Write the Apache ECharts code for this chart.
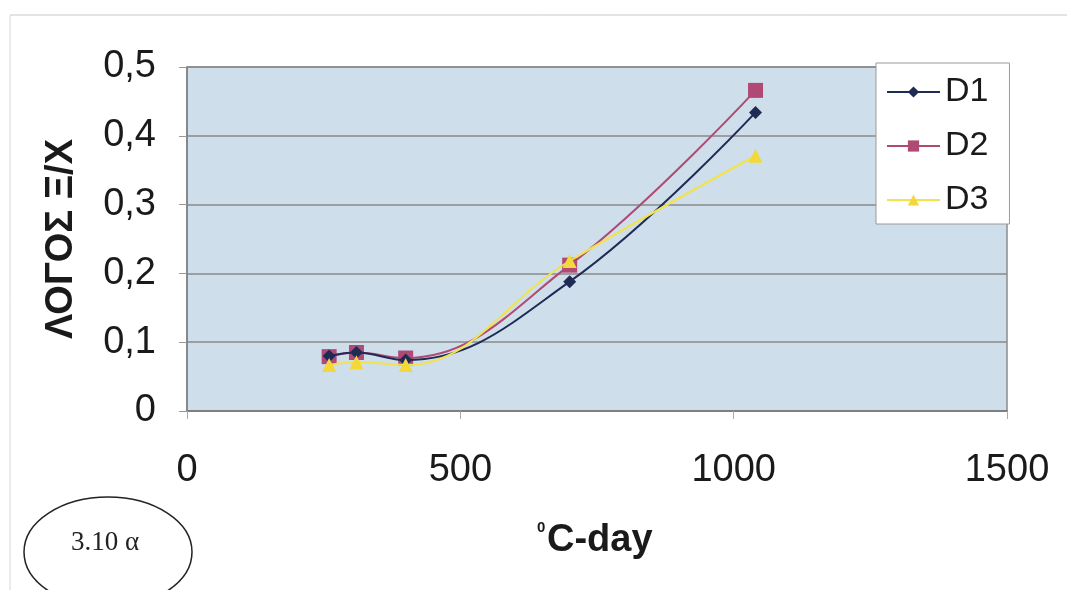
<!DOCTYPE html>
<html>
<head>
<meta charset="utf-8">
<script src="https://cdn.jsdelivr.net/npm/echarts@6/dist/echarts.min.js"></script>
<style>
html,body{margin:0;padding:0;background:#fff;}
#chart{width:1067px;height:590px;}
</style>
</head>
<body>
<div id="chart"></div>
<script>
const xValues = [260, 310, 400, 700, 1040];
const d1 = [0.080, 0.085, 0.074, 0.188, 0.434];
const d2 = [0.079, 0.085, 0.077, 0.212, 0.466];
const d3 = [0.067, 0.071, 0.067, 0.218, 0.371];
const seriesNames = ['D1', 'D2', 'D3'];
const yAxisTitle = 'ΛΟΓΟΣ Ξ/Χ';
const xAxisSup = '0';
const xAxisTitle = 'C-day';
const figLabel = '3.10 α';

const FONT = 'Liberation Sans, Arial, sans-serif';
const chart = echarts.init(document.getElementById('chart'), null, {renderer: 'canvas'});

function pairs(ys) { return xValues.map((x, i) => [x, ys[i]]); }

const option = {
  animation: false,
  backgroundColor: '#ffffff',
  grid: {
    left: 187, right: 60, top: 67, bottom: 179,
    show: true, backgroundColor: '#cedeea', borderColor: '#8c8c8c', borderWidth: 1.5
  },
  legend: {
    orient: 'vertical', left: 876, top: 63,
    padding: [12, 21, 7, 10], itemGap: 20,
    itemWidth: 53, itemHeight: 14,
    backgroundColor: '#ffffff', borderColor: '#9a9a9a', borderWidth: 1,
    textStyle: {fontFamily: FONT, fontSize: 34, color: '#1a1a1a'},
    data: seriesNames
  },
  xAxis: {
    type: 'value', min: 0, max: 1500, interval: 500,
    axisLine: {show: true, lineStyle: {color: '#7f7f7f', width: 2}},
    axisTick: {show: true, inside: false, length: 8, lineStyle: {color: '#aaaaaa'}},
    splitLine: {show: false},
    axisLabel: {fontFamily: FONT, fontSize: 38, color: '#1a1a1a', margin: 41,
      formatter: v => String(v)}
  },
  yAxis: {
    type: 'value', min: 0, max: 0.5, interval: 0.1,
    axisLine: {show: true, lineStyle: {color: '#7f7f7f', width: 1.5}},
    axisTick: {show: true, length: 8, lineStyle: {color: '#999999'}},
    splitLine: {show: true, lineStyle: {color: '#8a8a8a', width: 1.5}},
    axisLabel: {fontFamily: FONT, fontSize: 38, color: '#1a1a1a', margin: 31,
      formatter: v => String(v).replace('.', ',')},
    name: yAxisTitle, nameLocation: 'middle', nameGap: 106, nameRotate: 90,
    nameTextStyle: {fontFamily: FONT, fontSize: 38, fontWeight: 'bold', color: '#1a1a1a'}
  },
  series: [
    {name: seriesNames[0], type: 'line', data: pairs(d1), smooth: 0.4,
      symbol: 'diamond', symbolSize: 13,
      lineStyle: {color: '#1f2a55', width: 2}, itemStyle: {color: '#1f2a55'}, z: 3},
    {name: seriesNames[1], type: 'line', data: pairs(d2), smooth: 0.4,
      symbol: 'rect', symbolSize: 15,
      lineStyle: {color: '#b04a74', width: 2}, itemStyle: {color: '#b04a74'}, z: 2},
    {name: seriesNames[2], type: 'line', data: pairs(d3), smooth: 0.4,
      symbol: 'triangle', symbolSize: 14,
      lineStyle: {color: '#f2e34a', width: 2}, itemStyle: {color: '#f2d83a'}, z: 4}
  ],
  graphic: [
    {type: 'line', shape: {x1: 10, y1: 15, x2: 1067, y2: 15}, style: {stroke: '#c8c8c8', lineWidth: 1}, silent: true},
    {type: 'line', shape: {x1: 10, y1: 15, x2: 10, y2: 590}, style: {stroke: '#d8d8d8', lineWidth: 1}, silent: true},
    {type: 'text', left: 537, top: 520,
      style: {text: xAxisSup, fontFamily: FONT, fontSize: 15, fontWeight: 'bold', fill: '#1a1a1a'}},
    {type: 'text', left: 547, top: 522,
      style: {text: xAxisTitle, fontFamily: FONT, fontSize: 38, fontWeight: 'bold', fill: '#1a1a1a'}},
    {type: 'ellipse', shape: {cx: 108, cy: 552, rx: 84, ry: 55},
      style: {fill: 'none', stroke: '#222', lineWidth: 1.5}, silent: true},
    {type: 'text', x: 105, y: 543,
      style: {text: figLabel, fontFamily: 'Liberation Serif, Times New Roman, serif', fontSize: 27,
        fill: '#222', align: 'center', verticalAlign: 'middle'}}
  ]
};
chart.setOption(option);
</script>
</body>
</html>
